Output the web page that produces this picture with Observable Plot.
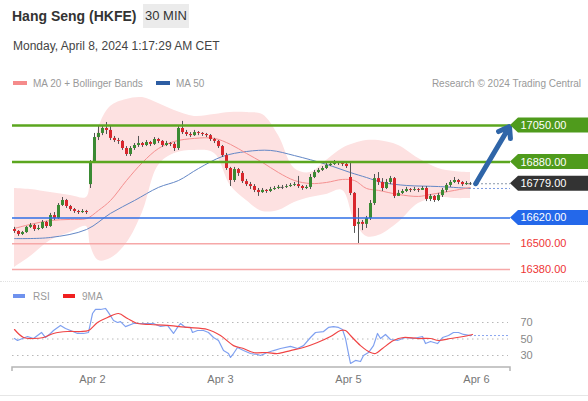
<!DOCTYPE html>
<html><head><meta charset="utf-8">
<script src="https://cdn.jsdelivr.net/npm/d3@7"></script>
<script src="https://cdn.jsdelivr.net/npm/@observablehq/plot@0.6"></script>
<style>
body{margin:0;background:#fff;font-family:"Liberation Sans",Arial,sans-serif;}
#wrap{position:relative;width:588px;height:401px;overflow:hidden;background:#fff;}
.abs{position:absolute;white-space:nowrap;}
.title{left:12px;top:8px;font-size:14px;line-height:16px;font-weight:bold;color:#333;}
.tf{left:143px;top:4px;width:46px;height:24px;line-height:24px;background:#ebebeb;font-size:13px;color:#333;text-align:center;}
.date{left:13px;top:39px;font-size:12px;line-height:14px;color:#444;}
.leg{font-size:10px;line-height:12px;color:#999;}
.sw{position:absolute;height:4px;}
</style></head><body>
<div id="wrap">
  <div class="abs title">Hang Seng (HKFE)</div>
  <div class="abs tf">30 MIN</div>
  <div class="abs date">Monday, April 8, 2024 1:17:29 AM CET</div>
  <div class="sw" style="left:13px;top:81px;width:14px;background:#f58b8b"></div>
  <div class="abs leg" style="left:33px;top:78px">MA 20 + Bollinger Bands</div>
  <div class="sw" style="left:156px;top:81px;width:14px;background:#2d5da3"></div>
  <div class="abs leg" style="left:176px;top:78px">MA 50</div>
  <div class="abs leg" style="right:7px;top:78px">Research © 2024 Trading Central</div>
  <div class="sw" style="left:13px;top:294px;width:12px;background:#6f92ee"></div>
  <div class="abs leg" style="left:33px;top:291px">RSI</div>
  <div class="sw" style="left:63px;top:294px;width:12px;background:#f02020"></div>
  <div class="abs leg" style="left:82px;top:291px">9MA</div>
  <div class="abs" style="left:0;top:281px;width:588px;border-top:1px dotted #e2e2e2"></div>
  <div class="abs" style="left:0;top:395px;width:588px;border-top:1px solid #e6e6e6"></div>
  <div id="price" class="abs" style="left:0;top:96px;width:588px;height:186px"></div>
  <div id="rsi" class="abs" style="left:0;top:282px;width:588px;height:113px"></div>
</div>
<script>
// ---- data ----
const opens = [16566,16557,16543,16552,16576,16585,16566,16571,16599,16580,16631,16617,16678,16701,16673,16659,16650,16645,16650,
16775,16882,16994,17013,17036,17027,16990,16980,16976,16943,16915,
16943,16957,16966,16957,16971,16962,16985,16976,16957,16966,16962,
16943,17036,17017,17008,17003,17017,17013,17008,17003,16985,16976,
16952,16910,16850,16794,16845,16827,16789,
16775,16766,16748,16738,16748,16743,16752,16757,16762,16762,16766,16771,16775,16766,16757,
16762,16808,16831,16841,16850,16864,16869,16878,16873,16869,
16808,16734,16590,16599,16590,16617,16687,16803,16785,16757,16785,16803,
16720,16734,16743,16752,16748,16752,16748,16757,16706,16720,16701,16724,16748,16771,16785,16794,16785,16775,16780];
const closes = [16557,16543,16552,16576,16585,16566,16571,16599,16580,16631,16617,16678,16701,16673,16659,16650,16645,16650,16645,
16882,16994,17013,17036,17027,16990,16980,16976,16943,16915,16943,
16957,16966,16957,16971,16962,16985,16976,16957,16966,16962,16943,
17036,17017,17008,17003,17017,17013,17008,17003,16985,16976,16952,
16910,16850,16794,16845,16827,16789,16775,
16766,16748,16738,16748,16743,16752,16757,16762,16762,16766,16771,16775,16766,16757,16762,
16808,16831,16841,16850,16864,16869,16878,16873,16869,16859,
16734,16580,16599,16590,16617,16687,16803,16785,16757,16785,16803,16720,
16734,16743,16752,16748,16752,16748,16757,16706,16720,16701,16724,16748,16771,16785,16794,16785,16775,16780,16779];
const highs = [16576,16561,16557,16580,16594,16590,16585,16608,16604,16641,16645,16687,16715,16706,16678,16664,16655,16659,16655,
16887,17013,17050,17050,17064,17045,16999,16990,16980,16952,16952,
16966,16999,16971,16980,16976,16994,16990,16980,16976,16971,16971,
17045,17069,17027,17017,17027,17022,17017,17013,17008,16990,16980,
16957,16920,16855,16855,16850,16836,16799,
16785,16775,16757,16757,16752,16762,16766,16771,16771,16775,16780,16785,16813,16771,16771,
16822,16841,16850,16859,16873,16878,16887,16882,16878,16873,
16882,16738,16664,16608,16627,16701,16822,16831,16803,16799,16813,16808,
16748,16752,16762,16757,16762,16757,16766,16766,16729,16724,16734,16757,16780,16794,16808,16799,16789,16789,16785];
const lows = [16548,16534,16538,16548,16571,16557,16561,16566,16571,16576,16608,16613,16673,16664,16650,16641,16636,16641,16636,
16757,16873,16980,17003,17008,16980,16971,16962,16934,16906,16906,
16934,16948,16948,16952,16952,16957,16966,16948,16952,16952,16929,
16934,17008,16999,16994,16999,17003,16999,16994,16976,16966,16943,
16901,16841,16766,16785,16813,16780,16766,
16752,16738,16720,16734,16734,16738,16748,16752,16752,16757,16762,16766,16757,16748,16752,
16752,16803,16827,16836,16845,16859,16864,16864,16859,16850,
16724,16548,16501,16561,16571,16608,16678,16771,16743,16752,16775,16710,
16720,16729,16738,16738,16743,16738,16748,16696,16696,16692,16696,16715,16738,16762,16780,16775,16766,16771,16771];

const bandIdx   = [0,4,9,14,18,19,21,24,28,32,36,40,45,50,54,58,62,66,70,74,78,82,85,88,91,96,101,106,110,114];
const bandUpper = [16757,16752,16738,16724,16715,16817,17036,17138,17171,17180,17152,17120,17092,17101,17110,17110,17101,17003,16850,16831,16887,16943,16966,16980,16980,16957,16896,16850,16836,16831];
const bandLower = [16389,16440,16515,16552,16580,16492,16422,16431,16501,16645,16864,16920,16934,16920,16771,16701,16650,16655,16692,16715,16729,16748,16608,16534,16538,16599,16687,16715,16710,16710];

const ma20Idx = [0,4,9,14,18,21,24,28,32,36,40,45,50,54,58,62,66,70,74,78,82,85,88,91,96,101,104,110,114];
const ma20    = [16571,16590,16608,16613,16617,16655,16701,16794,16878,16943,16976,16990,16990,16962,16920,16878,16831,16794,16780,16785,16799,16794,16757,16748,16729,16720,16729,16748,16762];
const ma50Idx = [0,9,18,24,30,36,41,46,52,58,64,70,78,84,88,92,98,106,114];
const ma50    = [16524,16529,16566,16641,16701,16762,16794,16850,16906,16929,16934,16910,16869,16831,16808,16785,16771,16766,16757];

const levels      = [17050, 16880, 16779, 16620, 16500, 16380];
const levelLabels = ["17050.00","16880.00","16779.00","16620.00","16500.00","16380.00"];
const levelKinds  = ["resistance","resistance","last","support","pivot","pivot"];

const arrowIdx = [115.3, 123.75];
const arrowVal = [16779, 17045];

const rsiIdx = [0,0.75,2,3.25,4.75,6.75,7.75,9,9.75,11.5,12.75,14,15.75,17.25,18.5,19.5,20.25,21.5,22.75,23.5,24.75,25.75,26.5,27.75,29.75,31.5,33.25,34.75,36.5,38.25,39.75,40.75,41.5,42.75,44,44.5,45.75,47.25,48.5,49.75,51,52.25,53.5,54,54.75,55.75,57.25,59,60.75,61.5,63.25,64.75,66.5,69,70.75,72.25,74,75.25,77.25,78.5,79.75,81,82,82.75,83.5,84,85.25,86.5,87.25,88.5,89.75,90.75,91.5,92.75,94,95.75,97.75,99.75,102,102.75,104,105.75,107,108.5,109.75,111,112.25,114];
const rsi    = [50.6,48.2,50.6,53,50.6,57.9,51.8,56.7,60.3,66.4,62.7,60.3,56.7,56.7,57.9,80.9,85.8,85.8,87,82,72.4,70,71,65,68.8,68.8,68.8,68.8,65.2,66.4,56.7,64,68.8,64,64,57.9,60.3,60.3,57.9,51.8,48.2,36,32.4,27.6,32.4,39.7,36,32.4,31.2,30,33.6,36,38.5,41,38.5,42,51.8,57.9,59,64,65,64,61.5,50.6,32.4,20.3,24,22.7,30,33.6,42,56.7,50.6,55.5,49.4,48.2,51.8,50.6,53,44.5,47,44.5,51.8,54.2,57.9,57.9,55.5,54.2];
const ma9Idx = [0,2.25,4.75,7.25,9.75,13.25,16.5,18.5,20.75,23.25,26,28.25,30.75,34,38.25,43.25,48.25,51.5,54.75,57.25,59.75,63.25,65.75,69,72.25,75.75,79,81.5,82.75,84,86.5,89,90.25,92,94.75,97.25,100.75,104,106,109,112.25,114.5];
const ma9    = [61.5,51.8,50.6,51.8,56.7,59.1,59.1,60.3,70,76,80.9,74.8,68.8,67.6,66.4,64,61.5,54.2,42,38.5,33.6,33.6,32.4,36,39.7,45.8,53,60.3,60.3,54.2,42,33.6,32.4,38.5,48.2,51.8,50.6,50.6,48.2,50.6,53,55.5];
const rsiGrid = [70, 50, 30];

const tickIdx    = [19.5, 51.5, 83.5, 115.5];
const tickLabels = ["Apr 2", "Apr 3", "Apr 5", "Apr 6"];

// ---- build ----
const FONT = '"Liberation Sans", Arial, sans-serif';
const GREEN = "#3b8a33", RED = "#d9262c";
const xDom = [-0.5, 124];
const candles = closes.map((c, i) => ({i, o: opens[i], h: highs[i], l: lows[i], c}));
const band = bandIdx.map((i, k) => ({i, u: bandUpper[k], l: bandLower[k]}));
const m20 = ma20Idx.map((i, k) => ({i, v: ma20[k]}));
const m50 = ma50Idx.map((i, k) => ({i, v: ma50[k]}));
const lv = levels.map((v, k) => ({v, label: levelLabels[k], kind: levelKinds[k]}));
const lastI = closes.length - 1;
const boxFill = {resistance: "#4f9b1c", last: "#333333", support: "#2468ea"};

const boxes = (index, scales, values, dims) => {
  const g = d3.create("svg:g");
  const x0 = dims.width - dims.marginRight, x1 = dims.width;
  lv.filter(d => boxFill[d.kind]).forEach(d => {
    const y = scales.y(d.v);
    g.append("path")
      .attr("d", `M${x0},${y}L${x0 + 8},${y - 7.5}H${x1}V${y + 7.5}H${x0 + 8}Z`)
      .attr("fill", boxFill[d.kind]);
  });
  return g.node();
};

const pricePlot = Plot.plot({
  width: 588, height: 186,
  marginLeft: 12, marginRight: 78, marginTop: 0, marginBottom: 0,
  x: {domain: xDom, axis: null},
  y: {domain: [17050, 16380], range: [29, 173], axis: null},
  style: {fontFamily: FONT, fontSize: "11px", background: "transparent", overflow: "visible"},
  marks: [
    Plot.areaY(band, {x: "i", y1: "l", y2: "u", fill: "#fde1e1", curve: "catmull-rom", clip: true}),
    Plot.line(m50, {x: "i", y: "v", stroke: "#6387c6", strokeWidth: 1, curve: "catmull-rom", clip: true}),
    Plot.line(m20, {x: "i", y: "v", stroke: "#f59090", strokeWidth: 1, curve: "catmull-rom", clip: true}),
    Plot.ruleX(candles, {x: "i", y1: "l", y2: "h", stroke: "#555", strokeWidth: 1}),
    Plot.ruleX(candles.filter(d => d.c - d.o >= 3), {x: "i", y1: "o", y2: "c", stroke: GREEN, strokeWidth: 3}),
    Plot.ruleX(candles.filter(d => d.o - d.c >= 3), {x: "i", y1: "o", y2: "c", stroke: RED, strokeWidth: 3}),
    Plot.ruleY(candles.filter(d => Math.abs(d.o - d.c) < 3), {y: "c", x1: d => d.i - 0.4, x2: d => d.i + 0.4, stroke: "#555", strokeWidth: 1}),
    Plot.ruleY(lv.filter(d => d.kind === "resistance"), {y: "v", stroke: "#5ba61f", strokeWidth: 2.5}),
    Plot.ruleY(lv.filter(d => d.kind === "support"), {y: "v", stroke: "#2f6fe6", strokeWidth: 1.5}),
    Plot.ruleY(lv.filter(d => d.kind === "pivot"), {y: "v", stroke: "#f6a8a8", strokeWidth: 1.5}),
    Plot.ruleY([closes[lastI]], {y: d => d, x1: lastI + 0.75, x2: xDom[1], stroke: "#8a98ab", strokeDasharray: "2,2"}),
    Plot.ruleY([ma50[ma50.length - 1]], {y: d => d, x1: lastI + 0.75, x2: xDom[1], stroke: "#7c9be0", strokeDasharray: "2,2"}),
    Plot.arrow([0], {x1: () => arrowIdx[0], y1: () => arrowVal[0], x2: () => arrowIdx[1], y2: () => arrowVal[1],
      stroke: "#2f65a8", strokeWidth: 5, headLength: 3.6, headAngle: 70}),
    boxes,
    Plot.text(lv.filter(d => boxFill[d.kind]), {y: "v", text: "label", frameAnchor: "right", dx: 10, textAnchor: "start", fill: "#fff", fontSize: 11}),
    Plot.text(lv.filter(d => !boxFill[d.kind]), {y: "v", text: "label", frameAnchor: "right", dx: 10, textAnchor: "start", fill: "#ee3535", fontSize: 11})
  ]
});
document.getElementById("price").appendChild(pricePlot);

const rsiPts = rsiIdx.map((i, k) => ({i, v: rsi[k]}));
const ma9Pts = ma9Idx.map((i, k) => ({i, v: ma9[k]}));
const tickMap = new Map(tickIdx.map((t, k) => [t, tickLabels[k]]));
const axisLine = (index, scales, values, dims) => {
  const g = d3.create("svg:g");
  const x0 = dims.marginLeft, x1 = dims.width - dims.marginRight, y = dims.height - dims.marginBottom;
  g.append("path").attr("d", `M${x0},${y + 4}V${y}H${x1}V${y + 4}`)
    .attr("fill", "none").attr("stroke", "#b5b5b5").attr("stroke-width", 1.5);
  return g.node();
};
const rsiPlot = Plot.plot({
  width: 588, height: 113,
  marginLeft: 12, marginRight: 78, marginTop: 0, marginBottom: 28,
  x: {domain: xDom, label: null},
  y: {domain: [70, 30], range: [40, 73], label: null},
  style: {fontFamily: FONT, fontSize: "11px", background: "transparent", overflow: "visible"},
  marks: [
    Plot.ruleY(rsiGrid, {y: d => d, x1: xDom[0], x2: 123.5, stroke: "#b8b8b8", strokeDasharray: "1.5,3.5"}),
    Plot.ruleY([rsi[rsi.length - 1]], {y: d => d, x1: rsiIdx[rsiIdx.length - 1], x2: 123.5, stroke: "#8aa6f0", strokeDasharray: "2,2"}),
    Plot.line(rsiPts, {x: "i", y: "v", stroke: "#7fa0f0", strokeWidth: 1.2}),
    Plot.line(ma9Pts, {x: "i", y: "v", stroke: "#f04545", strokeWidth: 1.2, curve: "catmull-rom"}),
    axisLine,
    Plot.axisX({ticks: tickIdx, tickFormat: d => tickMap.get(d), tickSize: 0, tickPadding: 8, fill: "#777", fontSize: 11, label: null}),
    Plot.axisY({anchor: "right", ticks: rsiGrid, tickSize: 0, tickPadding: 10, fill: "#888", fontSize: 11, label: null})
  ]
});
document.getElementById("rsi").appendChild(rsiPlot);
</script>
</body></html>
